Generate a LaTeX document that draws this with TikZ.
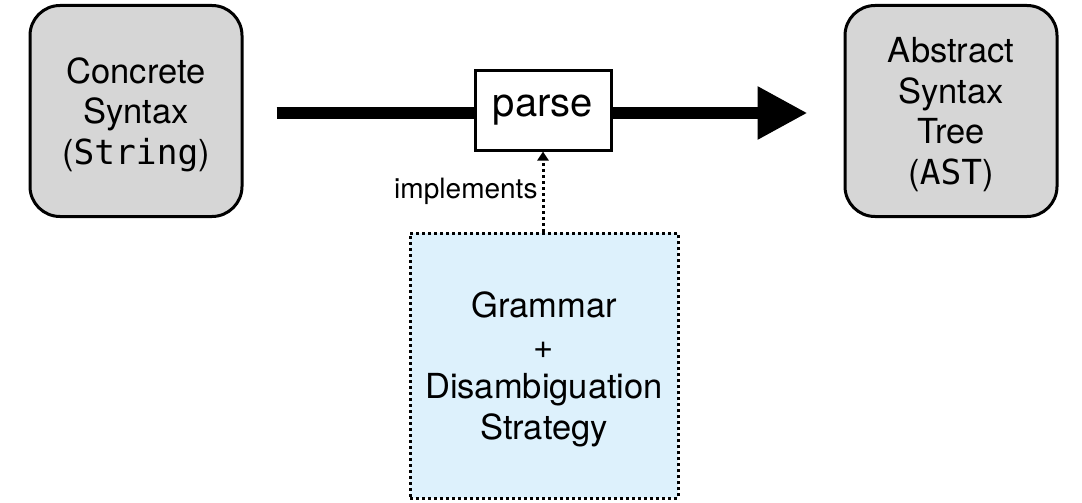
\documentclass[tikz,border=0pt]{standalone}
\usepackage{fontspec}
\setmainfont{TeX Gyre Heros}
\setmonofont{DejaVu Sans Mono}
\usepackage{xcolor}
\usepackage{tikz}
\usetikzlibrary{arrows.meta}
\usetikzlibrary{shapes}

\definecolor{boxgray}{HTML}{D6D6D6}
\definecolor{boxblue}{HTML}{DDF1FC}

\begin{document}
\begin{tikzpicture}[x = 1pt, y = -1pt,
        term/.style = {draw, line width = 3pt, fill = boxgray, rounded corners = 30pt,
            minimum width = 212pt, minimum height = 211pt, inner sep = 0pt, text depth = 0pt,
            align = center, font = \fontsize{34.5}{40.5}\selectfont},
        func/.style = {draw, line width = 3pt, fill = white, minimum width = 136pt,
            minimum height = 79pt, inner sep = 0pt, font = \fontsize{40}{48}\selectfont},
        spec/.style = {draw, line width = 3pt, dash pattern = on 3pt off 3pt, fill = boxblue,
            minimum width = 268pt, minimum height = 265pt, inner sep = 0pt, text depth = 0pt,
            align = center, font = \fontsize{34.5}{40.5}\selectfont}]
        \useasboundingbox (0, 0) rectangle (1082, 503);

        \node[term] (concrete) at (136, 111) {Concrete\\Syntax\\(\texttt{String})};
        \node[term] (ast) at (951, 111) {Abstract\\Syntax\\Tree\\(\texttt{AST})};

        \draw[line width = 12pt, shorten <= 33pt, shorten >= 36pt,
            -{Triangle[length = 50pt, width = 50pt]}] (concrete.east |- 0, 113) -- (ast.west |- 0, 113);

        \node[func] (parse) at (543, 110.5) {parse};
        \node[spec] (grammar) at (544, 365.5) {Grammar\\+\\Disambiguation\\Strategy};

        \draw[line width = 3pt, dash pattern = on 3pt off 3pt,
            -{Triangle[length = 9pt, width = 11pt]}] (grammar.north -| parse.south) -- (parse.south)
            node[midway, left, inner sep = 4pt, font = \fontsize{28}{32}\selectfont] {implements};
    \end{tikzpicture}
\end{document}
